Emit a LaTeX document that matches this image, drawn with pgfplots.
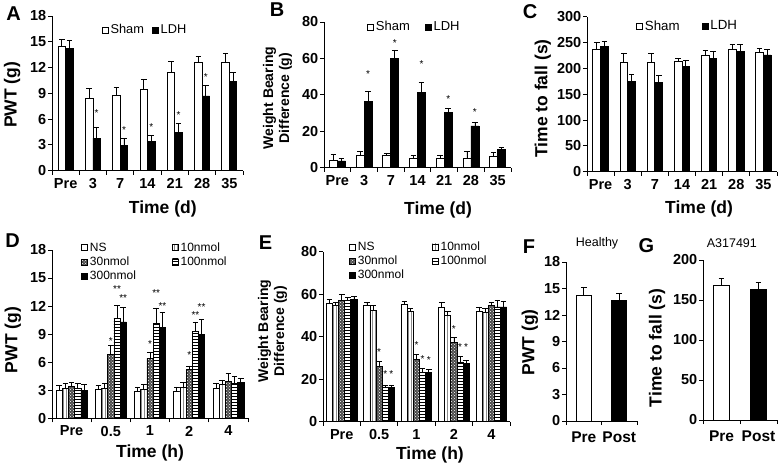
\documentclass[border=0pt]{standalone}
\usepackage{fontspec}
\setmainfont{Liberation Sans}
\usepackage{pgfplots}
\pgfplotsset{compat=1.18}
\usetikzlibrary{patterns}

\newcommand{\tickf}{\fontsize{14.5}{16}\selectfont\bfseries}
\newcommand{\labf}{\fontsize{17.5}{20}\selectfont\bfseries}
\newcommand{\wbf}{\fontsize{14}{16}\selectfont\bfseries}
\newcommand{\legf}{\fontsize{12.8}{14}\selectfont}
\newcommand{\starf}{\fontsize{10}{10}\selectfont}
\newcommand{\panf}{\fontsize{20}{22}\selectfont\bfseries}

\pgfplotsset{
  panel/.style={
    scale only axis, axis lines=left,
    axis line style={-, line width=0.9pt},
    tick align=outside, major tick length=4pt,
    tick style={line width=0.9pt, black},
    x tick label as interval,
    ymin=0, clip=false,
    ticklabel style={font=\tickf, inner sep=1.5pt},
    xticklabel style={yshift=-2pt},
    /pgf/number format/assume math mode=true,
    label style={font=\labf},
    legend style={draw=none, fill=none, inner sep=0pt, font=\legf,
      legend cell align=left},
    legend image code/.code={\draw[##1, line width=0.7pt] (0pt,-3pt) rectangle (6pt,3pt);},
  },
  % bar with manual shift; error bars moved by the same shift
  bars/.style 2 args={ybar, bar width=#1, bar shift=#2, draw=black, line width=0.8pt,
    error bars/y dir=plus, error bars/y explicit,
    error bars/error bar style={xshift=#2, line width=0.8pt, black},
    error bars/error mark options={xshift=#2, rotate=90, mark size=2.8pt, line width=0.8pt, black}},
  stars/.style 2 args={only marks, mark=none, forget plot, nodes near coords={#2},
    every node near coord/.append style={font=\starf, inner sep=0pt, anchor=center,
      xshift=#1, yshift=-2pt}},
  sham/.style={fill=white},
  ldh/.style={fill=black},
  ns/.style={fill=white},
  n10/.style={fill=white, postaction={pattern=vertical lines, pattern color=black!45}},
  n30/.style={fill=black!70, postaction={pattern=crosshatch dots, pattern color=white}},
  n100/.style={fill=white, postaction={pattern=horizontal lines, pattern color=black}},
  n300/.style={fill=black},
}

\begin{document}
\begin{tikzpicture}[x=1pt,y=1pt]
\path[use as bounding box] (0,0) rectangle (778,466);

% ---------- A ----------
\begin{axis}[panel, at={(52pt,295.3pt)}, anchor=south west,
  width=191pt, height=154.7pt, xmin=-0.5, xmax=6.5, ymax=18,
  ytick={0,3,...,18}, xtick={-0.5,0.5,...,6.5},
  xticklabels={Pre,3,7,14,21,28,35},
  xlabel={Time (d)}, ylabel={PWT (g)},
  xlabel style={at={(axis description cs:0.58,-0.248)}, anchor=center},
  ylabel style={at={(axis description cs:-0.209,0.49)}, anchor=center},
  legend columns=2,
  legend style={at={(axis description cs:0.26,0.91)}, anchor=west,
    /tikz/every even column/.append style={column sep=6pt}},
]
\addplot[bars={7.5pt}{-3.75pt}, sham] coordinates {
  (0,14.5) +- (0,0.75) (1,8.4) +- (0,1.2) (2,8.8) +- (0,0.85) (3,9.45) +- (0,1.15)
  (4,11.4) +- (0,1.3) (5,12.55) +- (0,0.7) (6,12.55) +- (0,1.1)};
\addplot[bars={7.5pt}{3.75pt}, ldh] coordinates {
  (0,14.2) +- (0,1.0) (1,3.8) +- (0,1.2) (2,2.9) +- (0,0.8) (3,3.4) +- (0,0.65)
  (4,4.5) +- (0,1.0) (5,8.7) +- (0,1.2) (6,10.4) +- (0,1.0)};
\addplot[stars={3.75pt}{*}] coordinates {(1,6.9) (2,5.0) (3,5.3) (4,6.7) (5,11.1)};
\legend{Sham,LDH}
\end{axis}

% ---------- B ----------
\begin{axis}[panel, at={(324pt,298.3pt)}, anchor=south west,
  width=187pt, height=145.7pt, xmin=-0.5, xmax=6.5, ymax=80,
  ytick={0,20,...,80}, xtick={-0.5,0.5,...,6.5},
  xticklabels={Pre,3,7,14,21,28,35},
  xlabel={Time (d)}, ylabel={Weight Bearing\\Difference (g)},
  xlabel style={at={(axis description cs:0.61,-0.29)}, anchor=center},
  ylabel style={at={(axis description cs:-0.249,0.478)}, anchor=center,
    align=center, font=\wbf},
  legend columns=2,
  legend style={font=\fontsize{13}{14}\selectfont,
    at={(axis description cs:0.23,0.966)}, anchor=west,
    /tikz/every even column/.append style={column sep=13pt}},
]
\addplot[bars={8pt}{-4pt}, sham] coordinates {
  (0,4.2) +- (0,3.3) (1,7.0) +- (0,1.8) (2,7.0) +- (0,0.9) (3,5.1) +- (0,1.5)
  (4,5.1) +- (0,1.9) (5,5.1) +- (0,3.7) (6,6.4) +- (0,1.8)};
\addplot[bars={8pt}{4pt}, ldh] coordinates {
  (0,3.7) +- (0,1.4) (1,36.2) +- (0,5.9) (2,60.0) +- (0,4.3) (3,41.4) +- (0,5.5)
  (4,30.4) +- (0,2.2) (5,22.9) +- (0,1.8) (6,10.2) +- (0,0.8)};
\addplot[stars={4pt}{*}] coordinates {(1,52.7) (2,69.7) (3,58.2) (4,39) (5,31.7)};
\legend{Sham,LDH}
\end{axis}

% ---------- C ----------
\begin{axis}[panel, at={(587pt,294.3pt)}, anchor=south west,
  width=190pt, height=155pt, xmin=-0.5, xmax=6.5, ymax=300,
  ytick={0,50,...,300}, xtick={-0.5,0.5,...,6.5},
  xticklabels={Pre,3,7,14,21,28,35},
  xlabel={Time (d)}, ylabel={Time to fall (s)},
  xlabel style={at={(axis description cs:0.59,-0.24)}, anchor=center},
  ylabel style={at={(axis description cs:-0.232,0.472)}, anchor=center},
  legend columns=2,
  legend style={font=\fontsize{13.3}{14}\selectfont,
    at={(axis description cs:0.258,0.94)}, anchor=west,
    /tikz/every even column/.append style={column sep=20pt}},
]
\addplot[bars={7.7pt}{-3.85pt}, sham] coordinates {
  (0,237) +- (0,13) (1,212) +- (0,17) (2,212) +- (0,16) (3,213.5) +- (0,6.5)
  (4,225) +- (0,10) (5,237) +- (0,9) (6,231) +- (0,8)};
\addplot[bars={7.7pt}{3.85pt}, ldh] coordinates {
  (0,242) +- (0,10) (1,174) +- (0,14) (2,172) +- (0,14) (3,203) +- (0,12)
  (4,219) +- (0,13) (5,232) +- (0,14) (6,226) +- (0,10)};
\legend{Sham,LDH}
\end{axis}

% ---------- D ----------
\begin{axis}[panel, at={(52pt,47.7pt)}, anchor=south west,
  width=196pt, height=168.3pt, xmin=-0.5, xmax=4.5, ymax=18,
  ytick={0,3,...,18}, xtick={-0.5,0.5,...,4.5},
  xticklabels={Pre,0.5,1,2,4},
  xlabel={Time (h)}, ylabel={PWT (g)},
  xlabel style={at={(axis description cs:0.5,-0.206)}, anchor=center},
  ylabel style={at={(axis description cs:-0.199,0.465)}, anchor=center},
  legend columns=2,
  legend style={font=\fontsize{12}{13}\selectfont,
    at={(axis description cs:0.148,0.929)}, anchor=west,
    /tikz/every even column/.append style={column sep=34pt}},
]
\addplot[bars={6.2pt}{-12.4pt}, ns] coordinates {
  (0,3.0) +- (0,0.5) (1,3.05) +- (0,0.5) (2,2.9) +- (0,0.45) (3,2.9) +- (0,0.45) (4,3.2) +- (0,0.5)};
\addplot[bars={6.2pt}{-6.2pt}, n10] coordinates {
  (0,3.2) +- (0,0.5) (1,3.2) +- (0,0.5) (2,3.1) +- (0,0.5) (3,3.3) +- (0,0.5) (4,3.6) +- (0,0.5)};
\addplot[bars={6.2pt}{0pt}, n30] coordinates {
  (0,3.4) +- (0,0.4) (1,6.8) +- (0,1.0) (2,6.4) +- (0,0.6) (3,5.2) +- (0,0.4) (4,3.9) +- (0,0.9)};
\addplot[bars={6.2pt}{6.2pt}, n100] coordinates {
  (0,3.2) +- (0,0.5) (1,10.7) +- (0,1.4) (2,10.2) +- (0,1.6) (3,9.3) +- (0,1.0) (4,3.7) +- (0,0.8)};
\addplot[bars={6.2pt}{12.4pt}, n300] coordinates {
  (0,3.0) +- (0,0.6) (1,10.3) +- (0,1.6) (2,9.7) +- (0,1.6) (3,9.0) +- (0,1.6) (4,3.8) +- (0,0.5)};
\addplot[stars={0pt}{*}] coordinates {(1,8.45) (2,8.2) (3,6.95)};
\addplot[stars={6.2pt}{**}] coordinates {(1,14.0) (2,13.65) (3,11.3)};
\addplot[stars={12.4pt}{**}] coordinates {(1,13.1) (2,12.2) (3,12.1)};
\legend{NS,10nmol,30nmol,100nmol,300nmol}
\end{axis}

% ---------- E ----------
\begin{axis}[panel, at={(323pt,44.3pt)}, anchor=south west,
  width=187pt, height=170pt, xmin=-0.5, xmax=4.5, ymax=80,
  ytick={0,20,...,80}, xtick={-0.5,0.5,...,4.5},
  xticklabels={Pre,0.5,1,2,4},
  xlabel={Time (h)}, ylabel={Weight Bearing\\Difference (g)},
  xlabel style={at={(axis description cs:0.572,-0.196)}, anchor=center},
  ylabel style={at={(axis description cs:-0.27,0.533)}, anchor=center,
    align=center, font=\wbf},
  legend columns=2,
  legend style={font=\fontsize{12}{13}\selectfont,
    at={(axis description cs:0.139,0.945)}, anchor=west,
    /tikz/every even column/.append style={column sep=26pt}},
]
\addplot[bars={6.1pt}{-12.2pt}, ns] coordinates {
  (0,55.7) +- (0,2) (1,54.5) +- (0,1.5) (2,55) +- (0,1.5) (3,54) +- (0,2) (4,52) +- (0,2)};
\addplot[bars={6.1pt}{-6.1pt}, n10] coordinates {
  (0,54.5) +- (0,1.5) (1,52.5) +- (0,2) (2,52) +- (0,1.5) (3,50) +- (0,2) (4,51.5) +- (0,2)};
\addplot[bars={6.1pt}{0pt}, n30] coordinates {
  (0,57) +- (0,3) (1,26) +- (0,2.5) (2,29.5) +- (0,2) (3,37.5) +- (0,2) (4,54.5) +- (0,1.5)};
\addplot[bars={6.1pt}{6.1pt}, n100] coordinates {
  (0,57) +- (0,1.5) (1,16) +- (0,1) (2,23) +- (0,2) (3,28) +- (0,2.5) (4,54) +- (0,3)};
\addplot[bars={6.1pt}{12.2pt}, n300] coordinates {
  (0,57.5) +- (0,1.5) (1,16) +- (0,1) (2,23) +- (0,1.5) (3,27.5) +- (0,1.5) (4,54) +- (0,2.5)};
\addplot[stars={0pt}{*}] coordinates {(1,33.5) (2,36.9) (3,44.7)};
\addplot[stars={6.1pt}{*}] coordinates {(1,23.5) (2,30.6) (3,36)};
\addplot[stars={12.2pt}{*}] coordinates {(1,23.5) (2,29.8) (3,36)};
\legend{NS,10nmol,30nmol,100nmol,300nmol}
\end{axis}

% ---------- F ----------
\begin{axis}[panel, at={(566pt,45pt)}, anchor=south west,
  width=71pt, height=159pt, xmin=-0.5, xmax=1.5, ymax=18,
  ytick={0,3,...,18}, xtick={-0.5,0.5,1.5},
  xticklabels={Pre,Post},
  xticklabel style={font=\fontsize{15.5}{17}\selectfont\bfseries, yshift=-3pt},
  ylabel={PWT (g)},
  ylabel style={at={(axis description cs:-0.507,0.494)}, anchor=center},
  title={Healthy}, title style={font=\fontsize{12.5}{14}\selectfont,
    at={(axis description cs:0.437,1.082)}, anchor=center},
]
\addplot[bars={15pt}{0pt}, sham] coordinates {(0,14.2) +- (0,0.9)};
\addplot[bars={15pt}{0pt}, ldh] coordinates {(1,13.7) +- (0,0.75)};
\end{axis}

% ---------- G ----------
\begin{axis}[panel, at={(703pt,46pt)}, anchor=south west,
  width=74pt, height=160pt, xmin=-0.5, xmax=1.5, ymax=200,
  ytick={0,50,...,200}, xtick={-0.5,0.5,1.5},
  xticklabels={Pre,Post},
  xticklabel style={font=\fontsize{15.5}{17}\selectfont\bfseries, yshift=-3pt},
  ylabel={Time to fall (s)},
  ylabel style={at={(axis description cs:-0.62,0.45)}, anchor=center},
  title={A317491}, title style={font=\fontsize{12.5}{14}\selectfont,
    at={(axis description cs:0.39,1.069)}, anchor=center},
]
\addplot[bars={16pt}{0pt}, sham] coordinates {(0,168.5) +- (0,8.5)};
\addplot[bars={16pt}{0pt}, ldh] coordinates {(1,163) +- (0,9.5)};
\end{axis}

% panel letters
\node[font=\panf] at (13.5,452) {A};
\node[font=\panf] at (277,456) {B};
\node[font=\panf] at (530,454) {C};
\node[font=\panf] at (12.5,225) {D};
\node[font=\panf] at (265.5,223) {E};
\node[font=\panf] at (529,219.5) {F};
\node[font=\panf] at (646.5,220) {G};
\end{tikzpicture}
\end{document}
